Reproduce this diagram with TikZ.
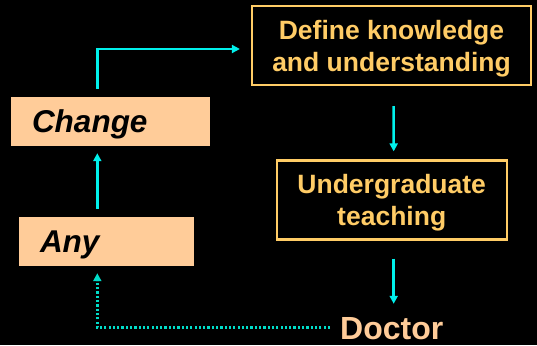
\documentclass[tikz,border=0pt]{standalone}
\usepackage{fontspec}
\setmainfont{Liberation Sans}
\usetikzlibrary{arrows.meta,positioning}
\definecolor{stagegold}{RGB}{255,204,102}
\definecolor{peach}{RGB}{255,204,153}
\definecolor{flowcyan}{RGB}{0,240,235}
\definecolor{loopteal}{RGB}{0,220,200}

\begin{document}
\begin{tikzpicture}[
    x=1pt, y=-1pt,
    stage/.style={draw=stagegold, line width=2.2pt, text=stagegold, font=\fontsize{26.5}{32}\selectfont\bfseries, align=center, text depth=0pt, inner sep=0pt},
    tag/.style={fill=peach, text=black, font=\fontsize{31.5}{36}\selectfont\bfseries\itshape, align=left, inner xsep=21pt, inner ysep=0pt, minimum height=49pt, text height=22.5pt, text depth=0pt},
    finale/.style={text=peach, font=\fontsize{32}{36}\selectfont\bfseries, inner sep=0pt, text height=23pt, text depth=0pt},
    flow/.style={flowcyan, line width=2.6pt, -{Triangle[length=8pt,width=8pt]}},
    feedback/.style={loopteal, line width=2.4pt, dash pattern=on 2.2pt off 2.1pt, -{Triangle[length=8pt,width=8pt]}}
]

% Background
\fill[black] (0,0) rectangle (537,345);

% Right column (stages)
\node[stage, minimum width=279pt, minimum height=79pt] (define) at (391.5,45.5) {Define knowledge\\and understanding};
\node[stage, minimum width=230pt, minimum height=79pt] (undergrad) at (391.7,200) {Undergraduate\\teaching};
\node[finale, anchor=base west] (doctor) at (340,339) {Doctor};

% Left column (tags)
\node[tag, text width=157pt] (change) at (110.5,121.5) {Change};
\node[tag, text width=133pt] (any) at (106.5,241.5) {Any};
\coordinate (spine) at (97.3,0);

% Forward flow
\draw[flow, shorten <=20pt, shorten >=8pt] ([xshift=2pt]define.south) -- ([xshift=2pt]undergrad.north);
\draw[flow, shorten <=18pt, shorten >=12pt] ([xshift=2pt]undergrad.south) -- ([xshift=2pt]undergrad.south |- doctor.north);
\draw[flow, shorten <=8pt, shorten >=7pt] (any.north -| spine) -- (change.south -| spine);
\draw[flow, shorten <=8.3pt, shorten >=11pt] (change.north -| spine) |- ([yshift=-3.5pt]define.west);

% Feedback loop
\draw[feedback, shorten <=10pt, shorten >=7pt] (doctor.west) -| (any.south -| spine);
\end{tikzpicture}
\end{document}
